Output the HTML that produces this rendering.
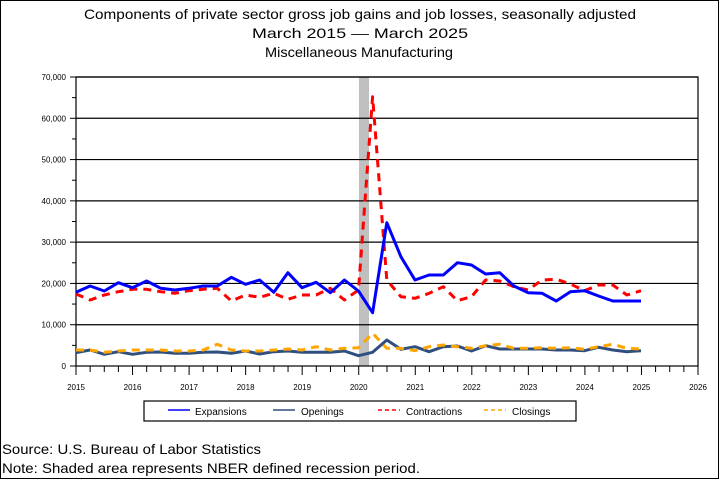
<!DOCTYPE html>
<html><head><meta charset="utf-8"><style>
body{margin:0;background:#fff}
svg{display:block;font-family:"Liberation Sans",sans-serif}
</style></head><body>
<svg id="s" width="720" height="480" viewBox="0 0 720 480">
<rect x="0.5" y="0.5" width="718" height="478" fill="#fff" stroke="#000" stroke-width="1"/>
<text x="84" y="19" font-size="14" textLength="552" lengthAdjust="spacingAndGlyphs">Components of private sector gross job gains and job losses, seasonally adjusted</text>
<text x="252" y="38" font-size="14" textLength="216" lengthAdjust="spacingAndGlyphs">March 2015 — March 2025</text>
<text x="265" y="57" font-size="14" textLength="188" lengthAdjust="spacingAndGlyphs">Miscellaneous Manufacturing</text>
<rect x="359" y="77" width="10" height="289" fill="#c0c0c0"/>
<g id="grid" stroke="#000" stroke-width="1.2"></g>
<rect x="76" y="77" width="622" height="289" fill="none" stroke="#000" stroke-width="1.2"/>
<g id="series" fill="none" stroke-width="3" stroke-linejoin="round"></g>
<rect x="144" y="401" width="432" height="20" fill="none" stroke="#000" stroke-width="1.2"/>
<line x1="168" y1="410" x2="190" y2="410" stroke="#0000ff" stroke-width="1.5"/>
<text x="195" y="415" font-size="10">Expansions</text>
<line x1="273" y1="410" x2="295" y2="410" stroke="#2f4f7f" stroke-width="1.5"/>
<text x="301" y="415" font-size="10">Openings</text>
<line x1="378" y1="410" x2="400" y2="410" stroke="#ff0000" stroke-width="1.5" stroke-dasharray="4,3"/>
<text x="406" y="415" font-size="10">Contractions</text>
<line x1="484" y1="410" x2="506" y2="410" stroke="#ffa500" stroke-width="1.5" stroke-dasharray="4,3"/>
<text x="512" y="415" font-size="10">Closings</text>
<text x="2" y="454" font-size="14" textLength="259" lengthAdjust="spacingAndGlyphs">Source: U.S. Bureau of Labor Statistics</text>
<text x="2" y="473" font-size="14" textLength="418" lengthAdjust="spacingAndGlyphs">Note: Shaded area represents NBER defined recession period.</text>
</svg>
<script>
var NS="http://www.w3.org/2000/svg",s=document.getElementById("s"),g=document.getElementById("grid");
function el(t,a,p){var e=document.createElementNS(NS,t);for(var k in a)e.setAttribute(k,a[k]);(p||s).appendChild(e);return e;}
for(var v=0;v<=70000;v+=10000){var y=366-v*289/70000;
 if(v>0)el("line",{x1:76,x2:698,y1:y,y2:y},g);
 el("line",{x1:70,x2:76,y1:y,y2:y,stroke:"#000"});
 var t=el("text",{x:66,y:y+3,"font-size":8,"text-anchor":"end"});t.textContent=v.toLocaleString("en-US");
 if(v<70000){var y2=y-289/14;el("line",{x1:72,x2:76,y1:y2,y2:y2,stroke:"#000"});}
}
var px=622/11;
for(var yr=0;yr<=11;yr++){var x=76+yr*px;el("line",{x1:x,x2:x,y1:366,y2:375,stroke:"#000"});
 var t=el("text",{x:x,y:390,"font-size":8,"text-anchor":"middle"});t.textContent=2015+yr;
 if(yr<11)for(var q=1;q<4;q++){var xq=x+q*px/4;el("line",{x1:xq,x2:xq,y1:366,y2:372,stroke:"#000"});}
}
var sg=document.getElementById("series");
function line(ys,c,d){var p=ys.map(function(y,i){return (76+i*14.125).toFixed(1)+","+y;}).join(" ");
 var a={points:p,stroke:c};if(d)a["stroke-dasharray"]=d;el("polyline",a,sg);}
var opn=[352.7,350,354.3,351.7,354.3,352.3,352,353.3,353.3,352.3,352,353.3,351,354,351.7,351,352.3,352.3,352.3,351,355.7,352.3,340,349.3,346.7,351.7,346.7,346,351,345.7,349,349,349,349,350,350,350.7,347.3,350,351.7,350.7];
var clo=[350,350,352.3,351,350,350,350,351,351,350,344.3,350,351,351,350,349,350,346.7,350,348.3,347.7,333.3,348.3,348.3,350.7,346.7,345,346.7,348.3,345.7,344.3,348.3,348.3,347.7,348.3,347.7,349.3,346.7,344.3,348.3,349];
var con=[294,300,295,291.7,289.3,289.3,291.7,293.3,290.7,289.3,288.3,301,295,297.3,293.3,299.3,295,295,288.3,300,290,96.7,280,296.7,298.3,293.3,286.7,300.7,296.7,280,281,286.7,290,280,279.3,284,290.7,285,285,295,290.7];
var exp=[292.3,286,291,282.7,287.7,281,288.3,290,288.3,286,286,277.3,284.3,280,292.3,272.7,287.7,282.3,292.7,280,291,312.7,222.7,256.7,280,275,275,262.7,265,274,272.7,286,292.7,293.3,301,291.7,290.7,296,301,301,301];
line(opn,"#2f4f7f");
line(clo,"#ffa500","8,6");
line(con,"#ff0000","8,6");
line(exp,"#0000ff");
</script>
</body></html>
